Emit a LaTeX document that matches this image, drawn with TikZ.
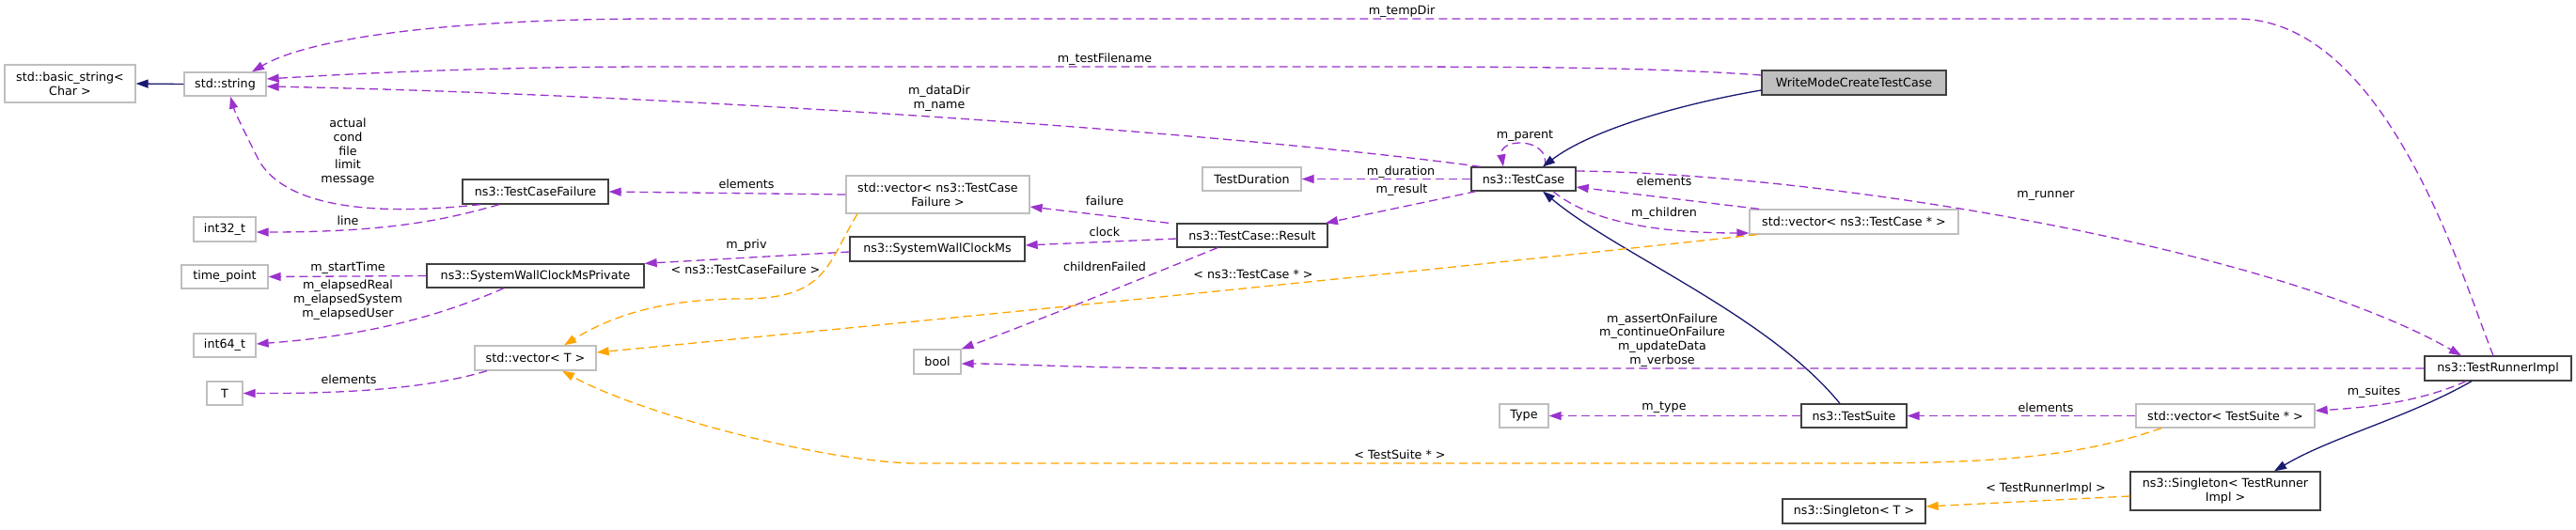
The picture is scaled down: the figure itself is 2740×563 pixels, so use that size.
\documentclass[tikz,border=0pt]{standalone}
\usepackage{fontspec}
\setmainfont{DejaVu Sans}
\usetikzlibrary{arrows.meta}
\definecolor{pur}{HTML}{9A32CD}
\definecolor{orng}{HTML}{FFA500}
\definecolor{navy}{HTML}{191970}
\definecolor{boxgray}{HTML}{BFBFBF}
\definecolor{boxdark}{HTML}{404040}
\begin{document}
\begin{tikzpicture}[x=1pt,y=-1pt, font=\fontsize{12.7}{14.7}\selectfont,
 box/.style={draw=boxgray, line width=1.3pt, inner sep=0pt, align=center, fill=white},
 dbox/.style={box, draw=boxdark},
 uses/.style={draw=pur, line width=1.3pt, dash pattern=on 9pt off 5pt, -{Triangle[length=13pt,width=9pt]}},
 tmpl/.style={uses, draw=orng},
 inh/.style={draw=navy, line width=1.3pt, -{Triangle[length=13pt,width=9pt]}},
 lbl/.style={inner sep=0pt, align=center}]
\useasboundingbox (0,0) rectangle (2740,563);
% nodes
\node[box, minimum width=139pt, minimum height=40pt] (bstr) at (74.5,89) {std::basic\_string<\\Char >};
\node[box, minimum width=87pt, minimum height=25pt] (str) at (239.5,89.5) {std::string};
\node[dbox, minimum width=155pt, minimum height=26pt] (tcf) at (569.5,204) {ns3::TestCaseFailure};
\node[box, minimum width=66pt, minimum height=26pt] (i32) at (239,244) {int32\_t};
\node[box, minimum width=92pt, minimum height=25pt] (tp) at (239,294.5) {time\_point};
\node[dbox, minimum width=231pt, minimum height=25pt] (swcmp) at (569.5,293.5) {ns3::SystemWallClockMsPrivate};
\node[box, minimum width=66pt, minimum height=25pt] (i64) at (239,367.5) {int64\_t};
\node[box, minimum width=129pt, minimum height=26pt] (vecT) at (569.5,381) {std::vector< T >};
\node[box, minimum width=38pt, minimum height=25pt] (T) at (239,418.5) {T};
\node[box, minimum width=195pt, minimum height=40pt] (vtcf) at (997.5,207) {std::vector< ns3::TestCase\\Failure >};
\node[dbox, minimum width=186pt, minimum height=26pt] (swcm) at (997,265) {ns3::SystemWallClockMs};
\node[dbox, minimum width=160pt, minimum height=25pt] (res) at (1332,250.5) {ns3::TestCase::Result};
\node[box, minimum width=105pt, minimum height=25pt] (dur) at (1331.5,190.5) {TestDuration};
\node[dbox, minimum width=111pt, minimum height=25pt] (tc) at (1620.5,190.5) {ns3::TestCase};
\node[dbox, fill=boxgray, minimum width=196pt, minimum height=26pt] (wm) at (1972,88) {WriteModeCreateTestCase};
\node[box, minimum width=222pt, minimum height=26pt] (vtc) at (1972,236) {std::vector< ns3::TestCase * >};
\node[box, minimum width=50pt, minimum height=26pt] (bool) at (997,385) {bool};
\node[box, minimum width=52pt, minimum height=25pt] (type) at (1621,442.5) {Type};
\node[dbox, minimum width=112pt, minimum height=25pt] (ts) at (1972,442.5) {ns3::TestSuite};
\node[dbox, minimum width=152pt, minimum height=26pt] (sgT) at (1972,544) {ns3::Singleton< T >};
\node[dbox, minimum width=156pt, minimum height=26pt] (tri) at (2657,392) {ns3::TestRunnerImpl};
\node[box, minimum width=190pt, minimum height=25pt] (vts) at (2367,442.5) {std::vector< TestSuite * >};
\node[dbox, minimum width=202pt, minimum height=41pt] (sgTRI) at (2367,522.5) {ns3::Singleton< TestRunner\\Impl >};
% edges
\draw[inh] (str.west) -- (bstr.east);
\draw[uses] ([xshift=-5pt]tri.north) .. controls (2620,300) and (2540,20) .. (2379,20) -- (700,20) .. controls (480,20) and (330,40) .. ([xshift=28.5pt]str.north);
\draw[uses] ([yshift=8pt]wm.west) .. controls (1750,71) and (1600,71) .. (1400,71) -- (700,71) .. controls (500,71) and (350,80) .. ([yshift=5.5pt]str.east);
\draw[uses] ([xshift=-46pt]tc.north) .. controls (1300,140) and (700,100) .. ([yshift=-2.5pt]str.east);
\draw[uses] ([xshift=22.5pt]tc.north) .. controls (1650,146) and (1594,146) .. ([xshift=-21.5pt]tc.north);
\draw[inh] ([yshift=-8pt]wm.west) .. controls (1780,112) and (1690,140) .. ([xshift=20.5pt]tc.north);
\draw[uses] (tc.west) -- (dur.east);
\draw[uses] ([xshift=-50.5pt]tc.south) -- ([xshift=78pt]res.north);
\draw[uses] ([xshift=-101pt]vtc.north) -- ([yshift=-8.5pt]tc.east);
\draw[uses] ([xshift=31.5pt]tc.south) .. controls (1690,235) and (1760,248) .. ([yshift=-12pt]vtc.west);
\draw[uses] ([yshift=8.5pt]tc.east) .. controls (1950,185) and (2420,265) .. ([xshift=-39pt]tri.north);
\draw[inh] ([xshift=-15pt]ts.north) .. controls (1880,335) and (1720,270) .. ([xshift=20.5pt]tc.south);
\draw[uses] (tri.west) -- (1300,392) .. controls (1150,392) and (1080,387) .. ([yshift=-2pt]bool.east);
\draw[uses] ([xshift=-37pt]res.south) .. controls (1230,290) and (1120,335) .. (bool.north east);
\draw[uses] ([xshift=-89pt]res.north) -- ([yshift=-13pt]vtcf.east);
\draw[uses] ([yshift=-3.5pt]res.west) -- ([yshift=4pt]swcm.east);
\draw[uses] (vtcf.west) -- (tcf.east);
\draw[uses] ([yshift=-3pt]swcm.west) -- (swcmp.north east);
\draw[tmpl] ([xshift=-85.5pt]vtcf.south) .. controls (880,280) and (880,318) .. (790,318) .. controls (720,318) and (660,330) .. ([xshift=30.5pt]vecT.north);
\draw[tmpl] ([xshift=-103pt]vtc.south) .. controls (1500,290) and (1000,340) .. ([yshift=6pt]vecT.east);
\draw[tmpl] ([xshift=-68pt]vts.south) .. controls (2200,490) and (2100,493) .. (1950,493) -- (970,493) .. controls (870,490) and (680,440) .. ([xshift=28.5pt]vecT.south);
\draw[uses] ([xshift=-51.5pt]vecT.south) .. controls (460,412) and (380,419) .. (T.east);
\draw[uses] ([xshift=-33.5pt]swcmp.south) .. controls (460,340) and (380,358) .. ([yshift=1.5pt]i64.east);
\draw[uses] (swcmp.west) -- (tp.east);
\draw[uses] ([xshift=-58.5pt]tcf.south) .. controls (380,232) and (300,215) .. (275,170) .. controls (260,140) and (250,120) .. ([xshift=5.5pt]str.south);
\draw[uses] ([xshift=-38.5pt]tcf.south) .. controls (470,235) and (410,247) .. ([yshift=-3pt]i32.east);
\draw[uses] (ts.west) -- (type.east);
\draw[uses] (vts.west) -- (ts.east);
\draw[uses] ([xshift=-34pt]tri.south) .. controls (2580,425) and (2530,433) .. ([yshift=5.5pt]vts.east);
\draw[inh] ([xshift=-28pt]tri.south) .. controls (2560,445) and (2480,465) .. ([xshift=52pt]sgTRI.north);
\draw[tmpl] ([yshift=-5.5pt]sgTRI.west) -- ([yshift=5pt]sgT.east);
% labels
\node[lbl] (l1) at (1491,12) {m\_tempDir};
\node[lbl] (l2) at (1175,63) {m\_testFilename};
\node[lbl] (l3) at (999,104.5) {m\_dataDir\\m\_name};
\node[lbl] (l4) at (1622,145) {m\_parent};
\node[lbl] (l5) at (1490,183) {m\_duration};
\node[lbl] (l6) at (1491,202) {m\_result};
\node[lbl] (l7) at (1770,193) {elements};
\node[lbl] (l8) at (1770,227) {m\_children};
\node[lbl] (l9) at (2176,208) {m\_runner};
\node[lbl] (l10) at (370,161.5) {actual\\cond\\file\\limit\\message};
\node[lbl] (l11) at (370,235) {line};
\node[lbl] (l12) at (794,196) {elements};
\node[lbl] (l13) at (1175,214) {failure};
\node[lbl] (l14) at (1175,247) {clock};
\node[lbl] (l15) at (794,261) {m\_priv};
\node[lbl] (l16) at (793,287) {< ns3::TestCaseFailure >};
\node[lbl] (l17) at (1175,284) {childrenFailed};
\node[lbl] (l18) at (1333,292) {< ns3::TestCase * >};
\node[lbl] (l19) at (370,285) {m\_startTime};
\node[lbl] (l20) at (370,319) {m\_elapsedReal\\m\_elapsedSystem\\m\_elapsedUser};
\node[lbl] (l21) at (371,404) {elements};
\node[lbl] (l22) at (1768,362) {m\_assertOnFailure\\m\_continueOnFailure\\m\_updateData\\m\_verbose};
\node[lbl] (l23) at (1770,434) {m\_type};
\node[lbl] (l24) at (1489,484) {< TestSuite * >};
\node[lbl] (l25) at (2176,434) {elements};
\node[lbl] (l26) at (2525,417) {m\_suites};
\node[lbl] (l27) at (2176,520) {< TestRunnerImpl >};
\end{tikzpicture}
\end{document}
